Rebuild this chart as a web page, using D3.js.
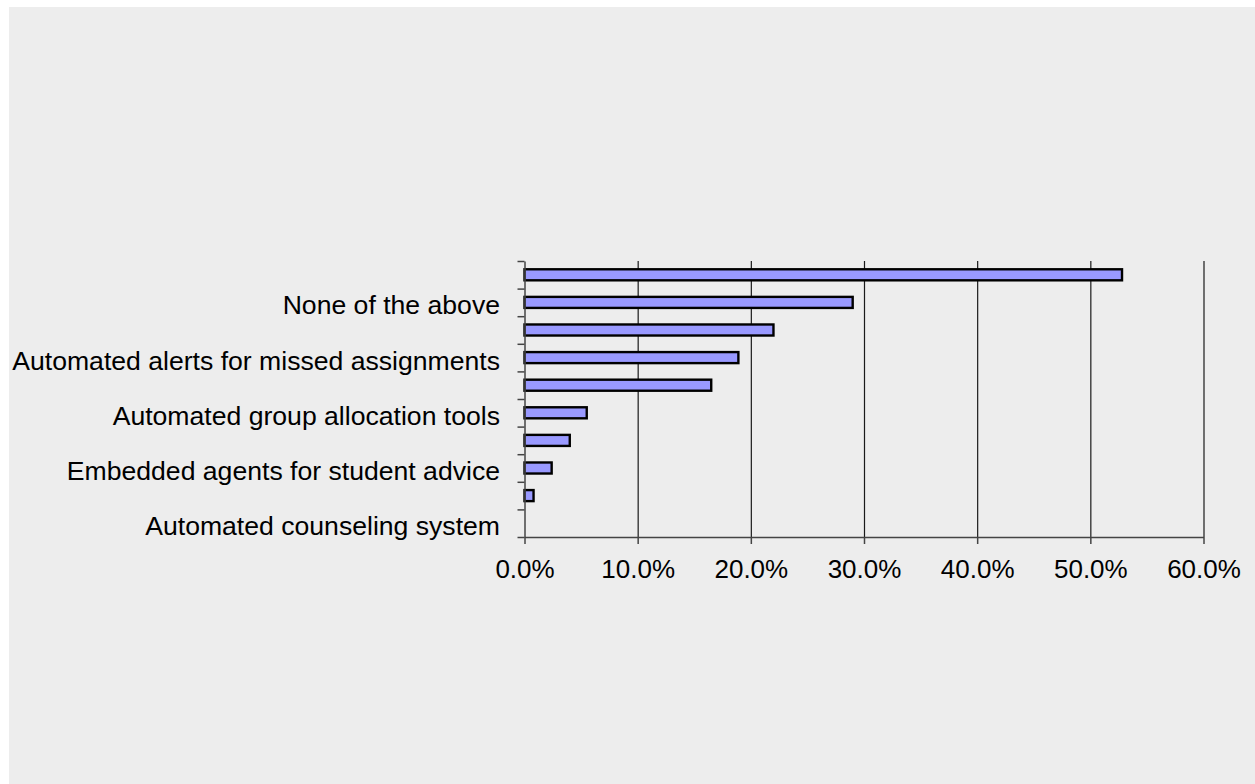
<!DOCTYPE html>
<html>
<head>
<meta charset="utf-8">
<script src="https://cdn.jsdelivr.net/npm/d3@7"></script>
<style>
  html, body { margin: 0; padding: 0; background: #fff; }
  svg { display: block; }
  text { font-family: "Liberation Sans", Arial, sans-serif; fill: #000; }
</style>
</head>
<body>
<svg id="chart" width="1255" height="784"></svg>
<script>
// categories top to bottom; only every other one carries a visible label
const categories = ['', 'None of the above', '', 'Automated alerts for missed assignments', '',
  'Automated group allocation tools', '', 'Embedded agents for student advice', '', 'Automated counseling system']
const shares = [0.528, 0.290, 0.220, 0.189, 0.165, 0.055, 0.040, 0.024, 0.008, 0.0]
const xTicks = [0, 0.1, 0.2, 0.3, 0.4, 0.5, 0.6]

const svg = d3.select('#chart')

svg.append('rect')
  .attr('x', 9)
  .attr('y', 7)
  .attr('width', 1255 - 9)
  .attr('height', 784 - 7)
  .attr('fill', '#ededed')

const margin = { top: 261, left: 524.5, right: 1203.5, bottom: 537 }

const xscale = d3.scaleLinear()
  .domain([0, 0.6])
  .range([margin.left, margin.right])

const idx = d3.range(categories.length)
const yscale = d3.scaleBand()
  .domain(idx)
  .range([margin.top, margin.bottom])
  .paddingInner(0.6)
  .paddingOuter(0.3)

// boundaries between category slots, for the left tick marks
const slotScale = d3.scaleLinear()
  .domain([0, categories.length])
  .range([margin.top, margin.bottom])

// vertical gridlines
const grid = svg.append('g')
  .attr('transform', `translate(0, ${margin.bottom})`)
  .call(d3.axisBottom(xscale).tickValues(xTicks.slice(1)).tickSize(-(margin.bottom - margin.top)).tickFormat(''))
grid.select('.domain').remove()
grid.selectAll('line').attr('stroke', '#1a1a1a').attr('stroke-width', 1.2)

// bars
svg.append('g')
  .selectAll('rect')
  .data(shares)
  .enter()
  .append('rect')
  .attr('x', xscale(0))
  .attr('y', (d, i) => yscale(i))
  .attr('width', d => xscale(d) - xscale(0))
  .attr('height', yscale.bandwidth())
  .attr('fill', d => d > 0 ? '#9999ff' : 'none')
  .attr('stroke', d => d > 0 ? '#000' : 'none')
  .attr('stroke-width', 2.4)

// bottom axis
const xAxis = svg.append('g')
  .attr('transform', `translate(0, ${margin.bottom})`)
  .call(d3.axisBottom(xscale).tickValues(xTicks).tickSize(7).tickPadding(16).tickFormat(d3.format('.1%')).tickSizeOuter(0))
xAxis.select('.domain').attr('stroke', '#444').attr('stroke-width', 1.5)
xAxis.selectAll('line').attr('stroke', '#444').attr('stroke-width', 1.5)
xAxis.selectAll('text')
  .style('font-size', '26px')
  .style('font-family', '"Liberation Sans", Arial, sans-serif')
  .attr('fill', '#000')

// left axis with slot ticks
const yAxis = svg.append('g')
  .attr('transform', `translate(${margin.left}, 0)`)
  .call(d3.axisLeft(slotScale).ticks(categories.length).tickSize(7).tickFormat('').tickSizeOuter(0))
yAxis.select('.domain').attr('stroke', '#444').attr('stroke-width', 1.5)
yAxis.selectAll('line').attr('stroke', '#444').attr('stroke-width', 1.5)

// category labels
svg.append('g')
  .selectAll('text')
  .data(idx.filter(i => categories[i] !== ''))
  .enter()
  .append('text')
  .attr('x', 500)
  .attr('y', i => yscale(i) + yscale.bandwidth() / 2 + 5)
  .attr('text-anchor', 'end')
  .attr('dominant-baseline', 'middle')
  .style('font-size', '26.6px')
  .text(i => categories[i])
</script>
</body>
</html>
